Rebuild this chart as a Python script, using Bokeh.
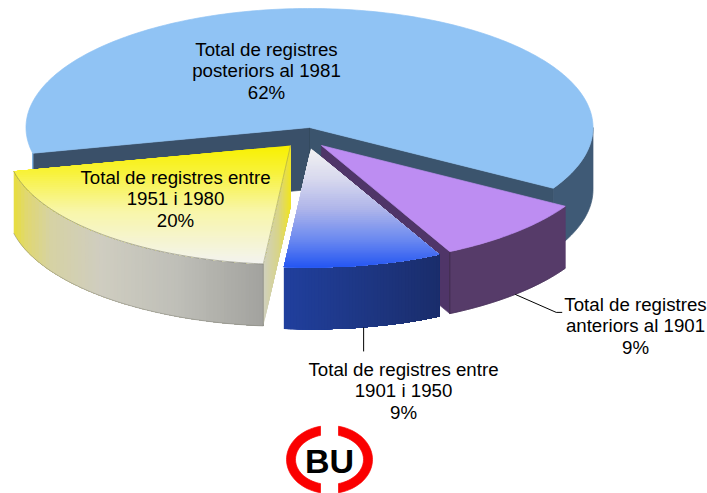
import math
from bokeh.plotting import figure
from bokeh.models import Range1d
from bokeh.core.properties import value
from bokeh.embed import file_html
from bokeh.resources import INLINE

# ---- data ----
categories = ["posteriors al 1981", "anteriors al 1901", "entre 1901 i 1950", "entre 1951 i 1980"]
shares = [62, 9, 9, 20]
label_lines = [
    ["Total de registres", "posteriors al 1981", "62%"],
    ["Total de registres", "anteriors al 1901", "9%"],
    ["Total de registres entre", "1901 i 1950", "9%"],
    ["Total de registres entre", "1951 i 1980", "20%"],
]

# ---- layout (screen pixels) ----
W, H = 707, 493
RX, RY, DEPTH = 283.5, 119.0, 62.0
FIRST_ANGLE = 167.5                    # where the first slice starts (deg, clockwise on screen)
apexes = [(309, 127), (321, 145), (310.5, 148), (290, 145)]
label_pos = [(266, 48.5), (635, 303.5), (403, 368.5), (175, 176.5)]
LINE_H = 21.7

p = figure(width=W, height=H, output_backend="svg", toolbar_location=None,
           x_range=Range1d(0, W), y_range=Range1d(H, 0),
           x_axis_type=None, y_axis_type=None, min_border=0,
           outline_line_color=None, background_fill_color="white",
           styles={"position": "absolute", "left": "0", "top": "0"})
p.grid.visible = False


def hex2rgb(h):
    return tuple(int(h[i:i + 2], 16) for i in (1, 3, 5))


def ramp(stops, f):
    f = max(0, min(1, f))
    for (a, ca), (b, cb) in zip(stops, stops[1:]):
        if f <= b:
            k = (f - a) / (b - a) if b > a else 0
            ra, rb = hex2rgb(ca), hex2rgb(cb)
            return "#%02x%02x%02x" % tuple(round(ra[i] + (rb[i] - ra[i]) * k) for i in range(3))
    return stops[-1][1]


def clip_from(poly, axis, lo):
    out = []
    for i in range(len(poly)):
        a, b = poly[i], poly[(i + 1) % len(poly)]
        ia, ib = a[axis] >= lo, b[axis] >= lo
        if ia:
            out.append(a)
        if ia != ib:
            k = (lo - a[axis]) / (b[axis] - a[axis])
            out.append((a[0] + (b[0] - a[0]) * k, a[1] + (b[1] - a[1]) * k))
    return out


def gradient(poly, axis, stops, n=60):
    # painted from the low end: every step covers all that is left of the shape,
    # so that no seams show between the steps
    vals = [q[axis] for q in poly]
    lo, hi = min(vals), max(vals)
    xs, ys, cs = [], [], []
    for i in range(n):
        c = clip_from(poly, axis, lo + (hi - lo) * i / n)
        if len(c) >= 3:
            xs.append([q[0] for q in c])
            ys.append([q[1] for q in c])
            cs.append(ramp(stops, (i + .5) / n))
    p.patches(xs, ys, fill_color=cs, line_color=None)


def rim(apex, t0, t1, step=1.0):
    n = max(2, int(abs(t1 - t0) / step) + 1)
    return [(apex[0] + RX * math.cos(math.radians(t0 + (t1 - t0) * i / (n - 1))),
             apex[1] + RY * math.sin(math.radians(t0 + (t1 - t0) * i / (n - 1)))) for i in range(n)]


def down(pts):
    return [(q[0], q[1] + DEPTH) for q in pts]


def solid(poly, fill, line=None, lw=0.7):
    p.patch([q[0] for q in poly], [q[1] for q in poly], fill_color=fill,
            line_color=line or fill, line_width=lw)


def outline(pts, color, lw=0.8, alpha=0.8):
    p.line([q[0] for q in pts], [q[1] for q in pts], line_color=color, line_width=lw, line_alpha=alpha)


# slice angles follow the shares
angles = []
t = FIRST_ANGLE
for s in shares:
    angles.append((t, t + s * 3.6))
    t += s * 3.6

# --- slice 1: light-blue body ---
a = apexes[0]
t0, t1 = angles[0]
arc = rim(a, t0, t1)
end_r, end_l = arc[-1], arc[0]
outer = rim(a, 360, t1)                       # visible outer side at the right
solid(outer + down(outer)[::-1], "#3f5a76")
solid([a, end_l, (end_l[0], end_l[1] + DEPTH), (a[0], a[1] + DEPTH)], "#3a5069")
solid([a, end_r, (end_r[0], end_r[1] + DEPTH), (a[0], a[1] + DEPTH)], "#3b546d")
outline([end_l, (end_l[0], end_l[1] + 18)], "#7fb2e0", 1.4, 1)
outline([a, (a[0], a[1] + DEPTH)], "#2f4356", 0.8)
solid([a] + arc, "#90c3f4", "#90c3f4")

# --- slice 2: purple ---
a = apexes[1]
t0, t1 = angles[1]
arc = rim(a, t0, t1)
solid([a, arc[-1], (arc[-1][0], arc[-1][1] + DEPTH), (a[0], a[1] + DEPTH)], "#4f3568")
solid(arc + down(arc)[::-1], "#563b69")
outline(down(arc), "#3f2a50", 0.7)
outline([arc[-1], (arc[-1][0], arc[-1][1] + DEPTH)], "#33213f", 0.9)
solid([a] + arc, "#bd8df2", "#bd8df2")

# --- slice 4: yellow ---
a = apexes[3]
t0, t1 = angles[3]
arc = rim(a, t0, t1)
wall_stops = [(0, "#e8de3c"), (.05, "#e0d870"), (.15, "#d6d2a4"), (.35, "#cfcdc0"),
              (.65, "#bfbfb8"), (1, "#a2a29e")]
gradient(arc + down(arc)[::-1], 0, wall_stops, 70)
gradient([a, arc[0], (arc[0][0], arc[0][1] + DEPTH), (a[0], a[1] + DEPTH)], 0,
         [(0, "#d0d0c0"), (.55, "#d8d488"), (1, "#f0e420")], 26)
gradient([a] + arc, 1, [(0, "#f8f000"), (.22, "#f8f238"), (.55, "#f8f6a8"), (1, "#f3f3f0")], 60)
outline(arc, "#77776a", 0.7)
outline(down(arc), "#8a8a80", 0.7)
outline([arc[0], a], "#8a8a60", 0.6)
outline([arc[0], (arc[0][0], arc[0][1] + DEPTH)], "#77776a", 0.6)

# --- slice 3: white-to-blue ---
a = apexes[2]
t0, t1 = angles[2]
arc = rim(a, t0, t1)
gradient(arc + down(arc)[::-1], 0, [(0, "#203f9e"), (.5, "#1e3784"), (1, "#1a2d6c")], 50)
gradient([a] + arc, 1, [(0, "#f2f2f2"), (.25, "#d8d9ee"), (.5, "#b0b6ea"),
                        (.75, "#6f8cf0"), (1, "#2456f2")], 60)

# --- leader lines ---
ends = angles[1]
pm = rim(apexes[1], ends[0], ends[1], 0.5)
# anchored on the lower rims of the slices
q = down(pm)[int(len(pm) * 0.5)]
p.line([q[0], q[0] + 41, q[0] + 47], [q[1], q[1] + 18, q[1] + 18], line_color="black", line_width=1)
bm = rim(apexes[2], angles[2][0], angles[2][1], 0.5)
q = down(bm)[int(len(bm) * 0.5)]
p.line([q[0], q[0]], [q[1], q[1] + 24], line_color="black", line_width=1)

# --- labels ---
tx, ty, tt = [], [], []
for (x, y), lines in zip(label_pos, label_lines):
    for i, s in enumerate(lines):
        tx.append(x)
        ty.append(y + i * LINE_H)
        tt.append(s)
p.text(tx, ty, text=tt, text_font=value("Liberation Sans"), text_font_size="18.7px",
       text_color="black", text_align="center", text_baseline="middle")

# --- logo ---
LX, LY, LRX, LRY, LT, GAP = 329, 459, 43, 34, 9, 9


def ring(sign):
    def half(rx, ry):
        lim = math.degrees(math.asin(min(1, GAP / rx)))
        ts = [-90 + lim + (180 - 2 * lim) * i / 40 for i in range(41)]
        return [(LX + sign * rx * math.cos(math.radians(v)), LY + ry * math.sin(math.radians(v))) for v in ts]
    return half(LRX, LRY) + half(LRX - LT, LRY - LT)[::-1]


for sgn in (-1, 1):
    solid(ring(sgn), "#fa0000")
p.text([LX], [LY + 1], text=["BU"], text_font=value("Liberation Sans"), text_font_size="34px",
       text_font_style="bold", text_color="black", text_align="center", text_baseline="middle")

open("out.html", "w").write(file_html(p, INLINE))
